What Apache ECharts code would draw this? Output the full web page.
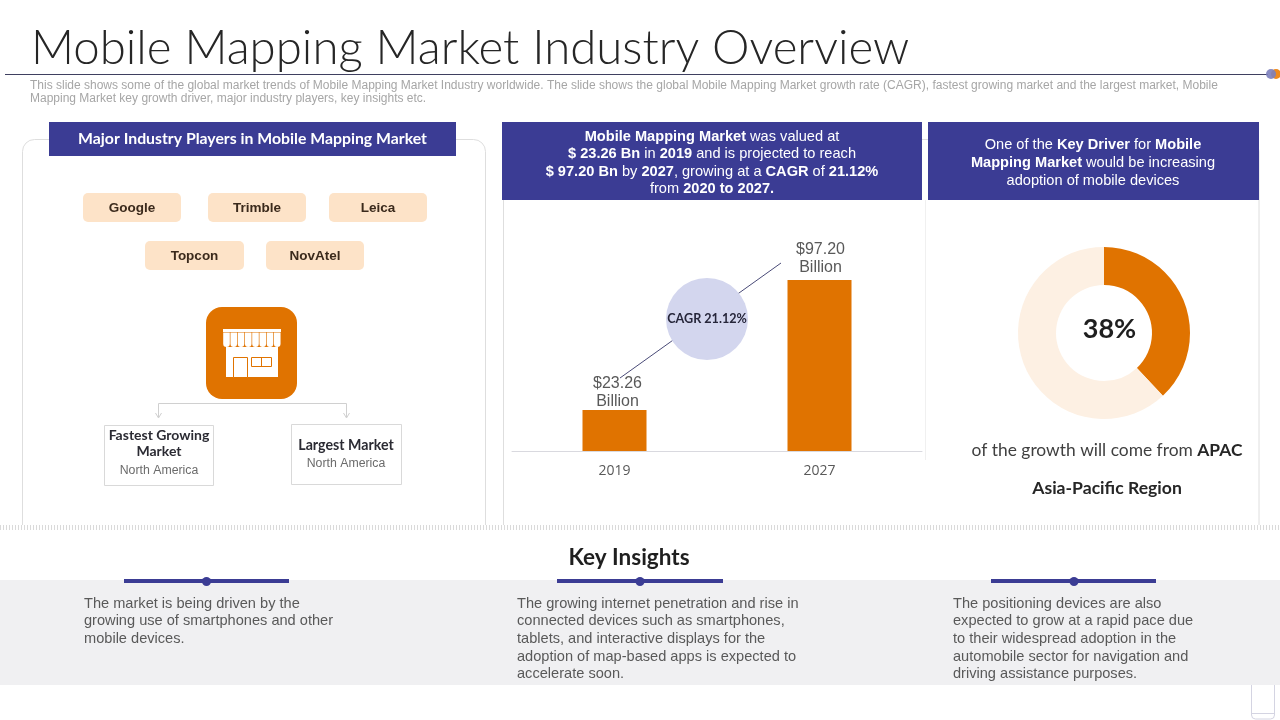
<!DOCTYPE html>
<html><head><meta charset="utf-8">
<style>html,body{margin:0;padding:0;background:#fff}#c{width:1280px;height:720px}</style>
<script src="https://cdn.jsdelivr.net/npm/echarts@6/dist/echarts.min.js"></script>
</head><body><div id="c"></div>
<script>
var barCategories = ['2019', '2027'];
var barValues = [23.26, 97.20];
var barUnit = 'Billion';
var donutNames = ['APAC', 'Other regions'];
var donutValues = [38, 62];
var players = ['Google', 'Trimble', 'Leica', 'Topcon', 'NovAtel'];
var insights = [
 'The market is being driven by the\ngrowing use of smartphones and other\nmobile devices.',
 'The growing internet penetration and rise in\nconnected devices such as smartphones,\ntablets, and interactive displays for the\nadoption of map-based apps is expected to\naccelerate soon.',
 'The positioning devices are also\nexpected to grow at a rapid pace due\nto their widespread adoption in the\nautomobile sector for navigation and\ndriving assistance purposes.'
];
var titleText = 'Mobile Mapping Market Industry Overview';
var subtitleText = 'This slide shows some of the global market trends of Mobile Mapping Market Industry worldwide. The slide shows the global Mobile Mapping Market growth rate (CAGR), fastest growing market and the largest market, Mobile\nMapping Market key growth driver, major industry players, key insights etc.';

var NAVY='#3B3C94', ORANGE='#E07300', PEACH='#FDE3C8', SANS='"Liberation Sans", Arial, sans-serif', GEO='Lato, sans-serif';
function T(x,y,text,o){o=o||{};return {type:'text',z:o.z||5,style:Object.assign({x:x,y:y,text:text,fill:'#595959',font:'14px '+SANS,textAlign:'left',textVerticalAlign:'middle'},o.style||{})};}
function R(x,y,w,h,fill,r,stroke,z){return {type:'rect',z:z||1,shape:{x:x,y:y,width:w,height:h,r:r||0},style:{fill:fill,stroke:stroke||null,lineWidth:stroke?1:0}};}
function L(x1,y1,x2,y2,c,w,z,dash){return {type:'line',z:z||2,shape:{x1:x1,y1:y1,x2:x2,y2:y2},style:{stroke:c,lineWidth:w||1,lineDash:dash||null}};}
function C(x,y,r,fill,z){return {type:'circle',z:z||3,shape:{cx:x,cy:y,r:r},style:{fill:fill}};}

var g=[];
// panels
g.push(R(22.5,139.5,463,410,'#fff',12,'#DEDEDE',1));
g.push(R(503.5,139.5,755.5,410,'#fff',12,'#DEDEDE',1));
g.push(R(0,525,1280,40,'#fff',0,null,1));
g.push(L(925.5,200,925.5,460,'#F0F0F0',1,1));
g.push(L(0,527.5,1280,527.5,'#DADADA',5,2,[1,2]));
// title
g.push(T(31,49,titleText,{style:{font:'300 47.4px '+GEO,fill:'#262626'}}));
g.push(L(5,74.5,1268,74.5,'#3F4060',1.2));
g.push(C(1276,74,5,'#EE8A1E',3)); g.push({type:'circle',z:4,shape:{cx:1271,cy:74,r:5},style:{fill:'#7C7FBC',opacity:.9}});
g.push(T(30,92,subtitleText,{style:{font:'12px '+SANS,fill:'#A6A6A6',lineHeight:13.5}}));
// headers
g.push(R(49,122,407,34,NAVY,0,null,3));
g.push(R(502,122,420,78,NAVY,0,null,3));
g.push(R(928,122,331,78,NAVY,0,null,3));
var wb={fill:'#fff',font:'bold 14.6px '+SANS,lineHeight:17.6}, wn={fill:'#fff',font:'14.6px '+SANS,lineHeight:17.6};
g.push(T(252.5,139,'Major Industry Players in Mobile Mapping Market',{style:{fill:'#fff',font:'bold 15.8px '+GEO,textAlign:'center'}}));
g.push(T(712,163,'{b|Mobile Mapping Market}{n| was valued at}\n{b|$ 23.26 Bn}{n| in }{b|2019}{n| and is projected to reach}\n{b|$ 97.20 Bn}{n| by }{b|2027}{n|, growing at a }{b|CAGR}{n| of }{b|21.12%}\n{n|from }{b|2020 to 2027.}',{style:{textAlign:'center',fill:'#fff',rich:{b:wb,n:wn}}}));
g.push(T(1093,163,'{n|One of the }{b|Key Driver}{n| for }{b|Mobile}\n{b|Mapping Market}{n| would be increasing}\n{n|adoption of mobile devices}',{style:{textAlign:'center',fill:'#fff',rich:{b:wb,n:wn}}}));
// players
var tagBoxes=[[83,193,98],[208,193,98],[329,193,98],[145,241,99],[266,241,98]];
players.forEach(function(p,i){var b=tagBoxes[i];
 g.push(R(b[0],b[1],b[2],29,PEACH,5,null,2));
 g.push(T(b[0]+b[2]/2,b[1]+15,p,{style:{textAlign:'center',font:'bold 13.5px '+SANS,fill:'#3B2A1C'}}));
});
// store icon
g.push(R(206,307,91,92,ORANGE,16,null,2));
g.push(R(226,347,52,30,'#fff',0,null,3));
g.push(R(223,329,58,3,'#fff',0,null,3));
for(var i=0;i<8;i++){g.push({type:'rect',z:3,shape:{x:223.2+i*7.25,y:332.5,width:6.6,height:14.5,r:[0,0,3.3,3.3]},style:{fill:'#fff'}});}
g.push(R(233.5,357.5,14,20,'#fff',0,ORANGE,4));
g.push(R(251.5,357.5,20,9,'#fff',0,ORANGE,4));
g.push(L(261.5,357.5,261.5,366.5,ORANGE,1,5));
// connector
g.push(L(158.5,403.5,346.5,403.5,'#D0D0D0',1));
[158.5,346.5].forEach(function(x){
 g.push(L(x,403.5,x,417,'#D0D0D0',1));
 g.push({type:'polyline',z:2,shape:{points:[[x-3,413],[x,418],[x+3,413]]},style:{stroke:'#D0D0D0',fill:null,lineWidth:1}});
});
g.push(R(104.5,425.5,109,60,'#fff',0,'#D9D9D9',2));
g.push(R(291.5,424.5,110,60,'#fff',0,'#D9D9D9',2));
g.push(T(159,443.5,'Fastest Growing\nMarket',{style:{textAlign:'center',font:'bold 14px '+GEO,fill:'#2B2B33',lineHeight:16}}));
g.push(T(159,471,'North America',{style:{textAlign:'center',font:'12.3px '+SANS,fill:'#6B6B6B'}}));
g.push(T(346,445.5,'Largest Market',{style:{textAlign:'center',font:'bold 14.2px '+GEO,fill:'#2B2B33'}}));
g.push(T(346,464,'North America',{style:{textAlign:'center',font:'12.3px '+SANS,fill:'#6B6B6B'}}));
// CAGR
g.push(L(620,378,781,263,'#4A4B78',1,2));
g.push(C(707,319,41,'#D3D6EE',3));
g.push(T(707,319,'CAGR 21.12%',{style:{textAlign:'center',font:'bold 12.6px '+GEO,fill:'#26263A'}}));
// donut text
g.push(T(1109.5,329.5,'38%',{style:{textAlign:'center',font:'bold 27px '+GEO,fill:'#1F1F1F'}}));
g.push(T(1107,450,'{n|of the growth will come from }{b|APAC}',{style:{textAlign:'center',rich:{n:{font:'17.4px '+GEO,fill:'#404040'},b:{font:'bold 17.4px '+GEO,fill:'#262626'}}}}));
g.push(T(1107,488,'Asia-Pacific Region',{style:{textAlign:'center',font:'bold 17.6px '+GEO,fill:'#262626'}}));
// bottom
g.push(R(1251.5,670,23,49,'#fff',4,'#D4D4E2',1));
g.push(L(1252,713.5,1274,713.5,'#D4D4E2',1,2));
g.push(R(0,580,1280,105,'#F0F0F2',0,null,2));
g.push(T(629,558,'Key Insights',{style:{textAlign:'center',font:'bold 22.5px '+GEO,fill:'#1F1F1F'}}));
[[124,165,206.5,84],[557,166,640,517],[991,165,1074,953]].forEach(function(a,i){
 g.push(R(a[0],579,a[1],4,NAVY,0,null,3));
 g.push(C(a[2],581.5,4.5,NAVY,4));
 g.push(T(a[3],603.5-8.85+(insights[i].split('\n').length*17.7)/2,insights[i],{style:{lineHeight:17.7,font:'14.6px '+SANS,fill:'#595959'}}));
});

var labelOffsets=[[3,5],[1,1]];
var chart=echarts.init(document.getElementById('c'),null,{renderer:'canvas',width:1280,height:720});
chart.setOption({
 animation:false,
 backgroundColor:'#fff',
 graphic:{elements:g},
 grid:{left:512,top:275,width:410,height:176},
 xAxis:{type:'category',z:4,data:barCategories,axisTick:{show:false},axisLine:{lineStyle:{color:'#D9D9DF',width:1}},axisLabel:{color:'#595959',fontFamily:'"Open Sans"',fontSize:14,margin:13}},
 yAxis:{type:'value',min:0,max:100,show:false,splitLine:{show:false}},
 series:[
  {type:'bar',barWidth:64,z:3,itemStyle:{color:ORANGE},
   data:barValues.map(function(v,i){return {value:v,label:{offset:labelOffsets[i]}};}),
   label:{show:true,position:'top',distance:4,color:'#595959',fontFamily:'"Liberation Sans"',fontSize:16,lineHeight:18,
    formatter:function(p){return '$'+p.value.toFixed(2)+'\n'+barUnit;}}},
  {type:'pie',radius:[48,86],center:[1104,333],startAngle:90,clockwise:true,silent:true,label:{show:false},labelLine:{show:false},z:3,
   data:donutNames.map(function(n,i){return {name:n,value:donutValues[i],itemStyle:{color:i===0?ORANGE:'#FDF0E3'}};})}
 ]
});
</script></body></html>
